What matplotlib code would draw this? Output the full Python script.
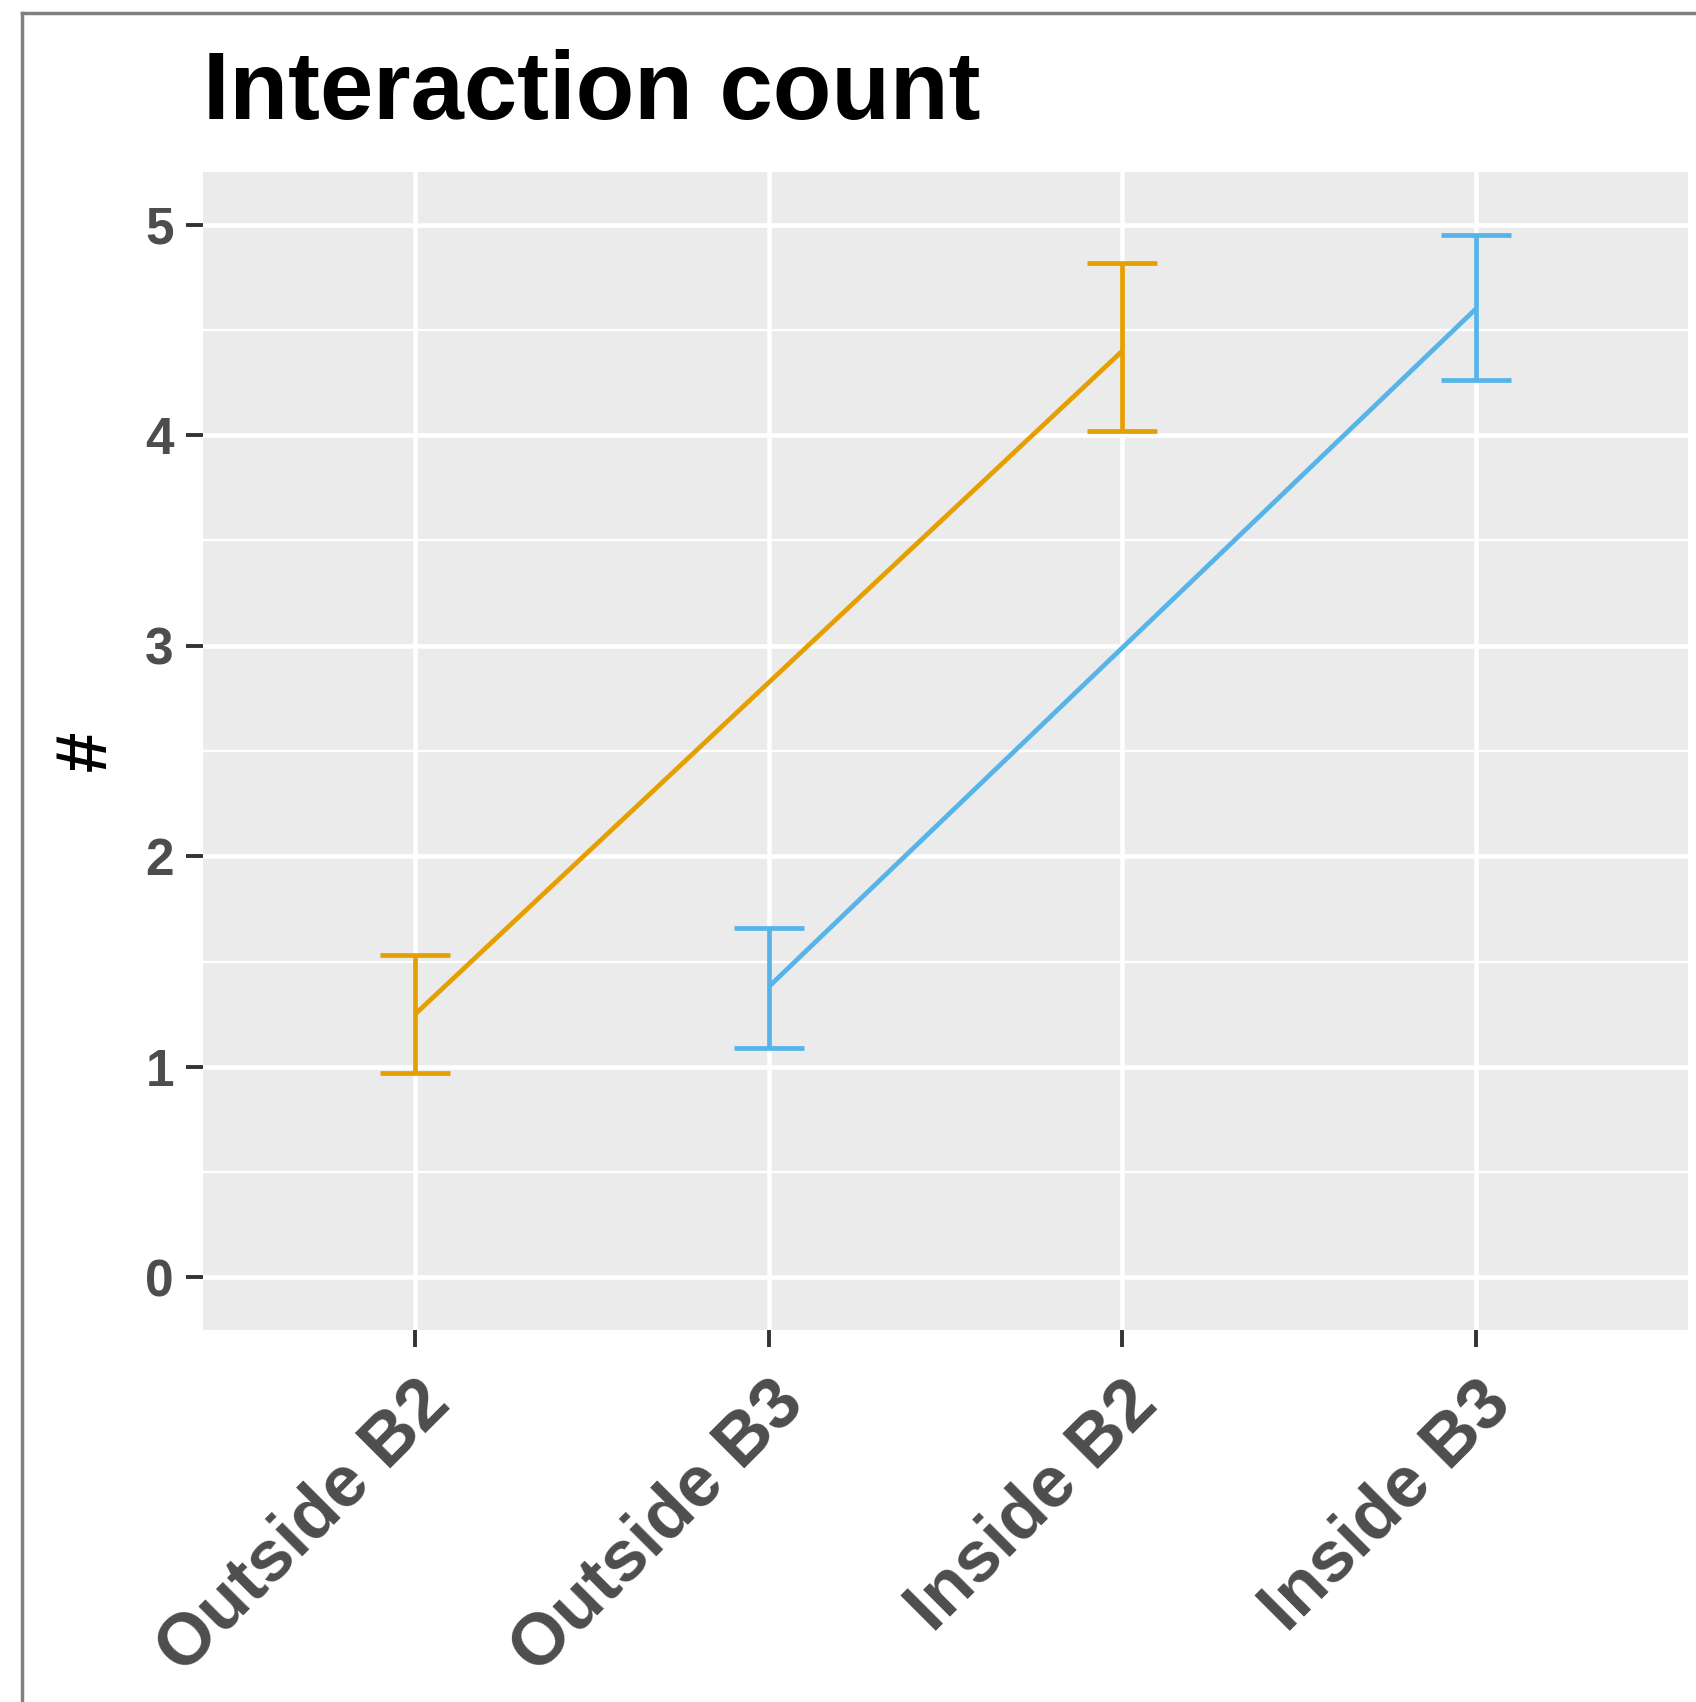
import matplotlib
matplotlib.use("Agg")
import matplotlib.pyplot as plt
from matplotlib.lines import Line2D
import numpy as np

plt.rcParams['font.family'] = ['Liberation Sans', 'DejaVu Sans']

# categories on the x axis
categories = ["Outside B2", "Outside B3", "Inside B2", "Inside B3"]

# series: position index, mean, lower and upper error bar ends
orange_idx = [0, 2]
orange_mean = [1.25, 4.40]
orange_lo = [0.97, 4.02]
orange_hi = [1.53, 4.82]

blue_idx = [1, 3]
blue_mean = [1.38, 4.60]
blue_lo = [1.09, 4.26]
blue_hi = [1.66, 4.95]

y_ticks = [0, 1, 2, 3, 4, 5]

W, H = 1696, 1702
fig = plt.figure(figsize=(W / 100, H / 100), dpi=100)
ax = fig.add_axes([203 / W, 1 - 1330 / H, (1688 - 203) / W, (1330 - 172) / H])

ax.set_facecolor("#EBEBEB")
for s in ax.spines.values():
    s.set_visible(False)

# grid like ggplot: minor at half steps, major at ticks
for y in np.arange(-0.5, 5.6, 0.5):
    if y in y_ticks:
        ax.axhline(y, color="white", lw=3.3, zorder=1)
    else:
        ax.axhline(y, color="white", lw=1.7, zorder=1)
for x in range(len(categories)):
    ax.axvline(x, color="white", lw=3.3, zorder=1)

def draw(idx, mean, lo, hi, color):
    mean = np.array(mean)
    yerr = [mean - np.array(lo), np.array(hi) - mean]
    ax.plot(idx, mean, color=color, lw=3.4, zorder=3, solid_capstyle="butt")
    ax.errorbar(idx, mean, yerr=yerr, fmt="none", ecolor=color,
                elinewidth=3.4, capsize=25.5, capthick=3.4, zorder=3)

draw(orange_idx, orange_mean, orange_lo, orange_hi, "#E69F00")
draw(blue_idx, blue_mean, blue_lo, blue_hi, "#56B4E9")

ax.set_xlim(-0.6, 3.6)
ax.set_ylim(-0.25, 5.25)
ax.set_yticks(y_ticks)
ax.set_yticklabels([str(v) for v in y_ticks])
ax.set_xticks(range(len(categories)))
ax.set_xticklabels(categories, rotation=45, ha="right", va="top",
                   rotation_mode="anchor")

ax.tick_params(axis="both", length=12, width=2.8, color="#333333")
ax.tick_params(axis="y", pad=9, labelsize=37, labelcolor="#4D4D4D")
ax.tick_params(axis="x", pad=16, labelsize=52, labelcolor="#4D4D4D")
for lab in ax.get_xticklabels() + ax.get_yticklabels():
    lab.set_fontweight("bold")

fig.text(203 / W, 1 - 119 / H, "Interaction count", fontsize=69,
         fontweight="bold", color="black", ha="left", va="baseline")
fig.text(87 / W, 1 - 751 / H, "#", fontsize=52, fontweight="bold",
         color="black", rotation=90, ha="center", va="center")

# grey frame around the plot (right and bottom edges cropped off)
fig.add_artist(Line2D([22 / W, 22 / W], [0, 1 - 13 / H], transform=fig.transFigure,
                      color="#808080", lw=2.5))
fig.add_artist(Line2D([22 / W, 1], [1 - 13 / H, 1 - 13 / H], transform=fig.transFigure,
                      color="#808080", lw=2.5))

fig.savefig("out.png", dpi=100, facecolor="white")
